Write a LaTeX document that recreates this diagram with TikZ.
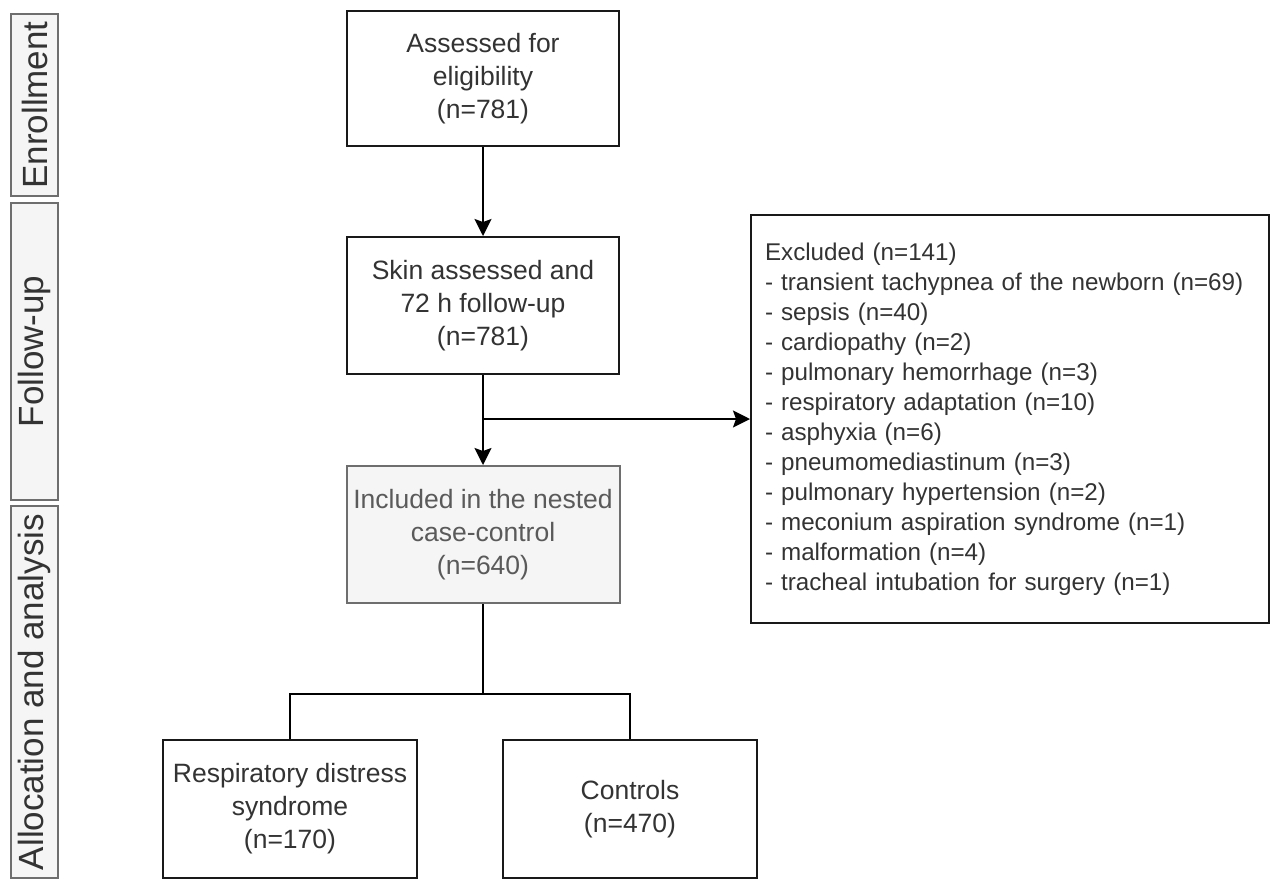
\documentclass[tikz,border=0pt]{standalone}
\usepackage{fontspec}
\setmainfont{Liberation Sans}
\usetikzlibrary{arrows.meta}
\definecolor{txt}{HTML}{333333}
\definecolor{graytxt}{HTML}{5A5A5A}
\definecolor{grayfill}{HTML}{F5F5F5}
\definecolor{grayline}{HTML}{6E6E6E}
\tikzset{
  mainbox/.style={draw=black!90, line width=2pt, fill=white, inner sep=0pt, align=center, text=txt,
    font=\fontsize{26.5}{33}\selectfont},
  graybox/.style={mainbox, draw=grayline, fill=grayfill, text=graytxt},
  phasebox/.style={draw=grayline, line width=2pt, fill=grayfill, inner sep=0pt},
  phasetext/.style={rotate=90, text=txt, font=\fontsize{35}{38}\selectfont},
  arr/.style={line width=2pt, -{Stealth[inset=3pt,length=17pt,width=17pt]}},
  conn/.style={line width=2pt}
}
\begin{document}
\begin{tikzpicture}[x=1pt,y=-1pt]
\useasboundingbox (0,0) rectangle (1271,879);
% phase labels
\node[phasebox, minimum width=47pt, minimum height=182pt] (enr) at (34.5,105) {};
\node[phasetext] (enrt) at (enr.center) {Enrollment};
\node[phasebox, minimum width=47pt, minimum height=297pt] (fol) at (34.5,351.5) {};
\node[phasetext] (folt) at (fol.center) {Follow-up};
\node[phasebox, minimum width=47pt, minimum height=372pt] (all) at (34.5,692) {};
\node[phasetext] (allt) at (all.center) {Allocation and analysis};
% main boxes
\node[mainbox, minimum width=272pt, minimum height=135pt] (A) at (483,78.5) {Assessed for\\eligibility\\(n=781)};
\node[mainbox, minimum width=272pt, minimum height=137pt] (B) at (483,305.5) {Skin assessed and\\72 h follow-up\\(n=781)};
\node[graybox, minimum width=273pt, minimum height=137pt] (Inc) at (483,534.5) {Included in the nested\\case-control\\(n=640)};
\node[draw=black!90, line width=2pt, text=txt, inner xsep=14pt, inner ysep=0pt, text width=490pt,
  minimum height=408pt, align=left, font=\fontsize{24.2}{30}\selectfont] (Exc) at (1010,419)
 {Excluded (n=141)\\
- transient tachypnea of the newborn (n=69)\\
- sepsis (n=40)\\
- cardiopathy (n=2)\\
- pulmonary hemorrhage (n=3)\\
- respiratory adaptation (n=10)\\
- asphyxia (n=6)\\
- pneumomediastinum (n=3)\\
- pulmonary hypertension (n=2)\\
- meconium aspiration syndrome (n=1)\\
- malformation (n=4)\\
- tracheal intubation for surgery (n=1)};
\node[mainbox, minimum width=254pt, minimum height=138pt] (RDS) at (290,809) {Respiratory distress\\syndrome\\(n=170)};
\node[mainbox, minimum width=254pt, minimum height=138pt] (Ctl) at (630,809) {Controls\\(n=470)};
% connectors
\coordinate (br) at (483,419);
\coordinate (sp) at (483,694);
\draw[arr] (A) -- (B);
\draw[arr] (B) -- (Inc);
\draw[arr] (br) -- (br -| Exc.west);
\draw[conn] (Inc.south) -- (sp);
\draw[conn] (RDS.north) |- (sp) -| (Ctl.north);
\end{tikzpicture}
\end{document}
